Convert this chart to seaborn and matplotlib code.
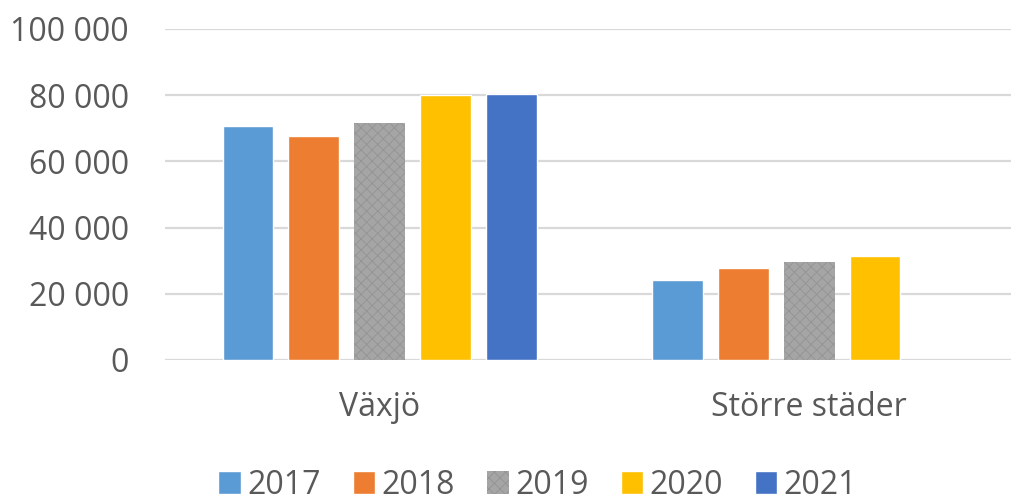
import pandas as pd
import seaborn as sns
import matplotlib.pyplot as plt
from matplotlib.patches import Patch

# values
categories = ["Växjö", "Större städer"]
years = ["2017", "2018", "2019", "2020", "2021"]
vaxjo = [70700, 67800, 71500, 80000, 80400]
storre = [24200, 27800, 29700, 31500]
colors = ["#5B9BD5", "#ED7D31", "#A5A5A5", "#FFC000", "#4472C4"]

rows = []
for y, v in zip(years, vaxjo):
    rows.append({"omrade": categories[0], "ar": y, "varde": v})
for y, v in zip(years, storre):
    rows.append({"omrade": categories[1], "ar": y, "varde": v})
df = pd.DataFrame(rows)
palette = dict(zip(years, colors))

sns.set_style("white")
plt.rcParams["font.family"] = ["Open Sans", "DejaVu Sans"]
plt.rcParams["hatch.linewidth"] = 0.6

fig = plt.figure(figsize=(10.11, 5.04), dpi=100)
ax = fig.add_axes([165 / 1011, 1 - 360 / 504, 1 - 165 / 1011, (360 - 29) / 504])

sns.barplot(data=df, x="omrade", y="varde", hue="ar", order=categories,
            hue_order=years, palette=palette, width=0.767, gap=0.23,
            saturation=1, legend=False, ax=ax)

# grey 2019 bars have a texture in the original
for bar in ax.containers[2]:
    bar.set_hatch("xxx")
    bar.set_edgecolor("#939393")
    bar.set_linewidth(0)

ax.set_xlim(-0.5, 1.47)
ax.set_ylim(0, 100000)
ax.set_yticks(range(0, 100001, 20000))
ax.set_yticklabels([f"{v:,}".replace(",", " ") for v in range(0, 100001, 20000)])
ax.yaxis.grid(True, color="#D9D9D9", linewidth=1.6)
ax.set_axisbelow(True)
for s in ax.spines.values():
    s.set_visible(False)
ax.tick_params(axis="y", length=0, pad=26, labelsize=23, labelcolor="#595959")
ax.tick_params(axis="x", length=0, pad=22, labelsize=23, labelcolor="#595959")
ax.set_xlabel("")
ax.set_ylabel("")

handles = [Patch(facecolor=c, label=y) for y, c in zip(years, colors)]
handles[2].set_hatch("xxx")
handles[2].set_edgecolor("#939393")
handles[2].set_linewidth(0)
fig.legend(handles=handles, loc="center", bbox_to_anchor=(0.532, 1 - 485 / 504),
           ncol=5, frameon=False, fontsize=23, labelcolor="#595959",
           handlelength=0.7, handleheight=0.7, handletextpad=0.2,
           columnspacing=1.0, borderpad=0.1)

fig.savefig("out.png", dpi=100)
